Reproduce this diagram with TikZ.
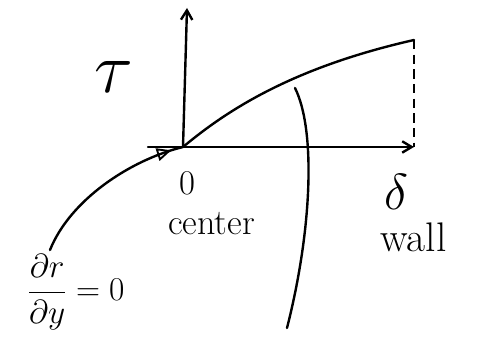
\RequirePackage{fix-cm}
\documentclass[tikz,border=0pt]{standalone}
\usepackage{tikz}
\usetikzlibrary{arrows.meta,decorations.markings}

\begin{document}
\begin{tikzpicture}[
  x=0.75pt,y=-0.75pt,
  pen/.style={line width=1.8pt,line cap=round},
  axis/.style={pen,-{Straight Barb[length=2.5mm,width=3mm]}},
  guide/.style={line width=1pt,dashed,dash pattern=on 7pt off 4pt},
  lbl/.style={inner sep=0pt,font=\fontsize{27}{30}\selectfont},
  inflow/.style={pen,postaction={decorate},decoration={markings,
    mark=at position 0.93 with {\arrow[line width=1.4pt]{Triangle[open,length=3.8mm,width=3.4mm]}}}}
]
\useasboundingbox (0,0) rectangle (479,338);
% axes
\coordinate (o) at (183,147);
\coordinate (xl) at (148,147);
\coordinate (xr) at (414,147);
\coordinate (yt) at (187,8);
\coordinate (tw) at (414,40);
\coordinate (cin) at (50,250);
\coordinate (dtop) at (295,88);
\coordinate (dbot) at (287,328);
\draw[axis] (xl) -- (xr);
\draw[axis] (o) -- (yt);
\draw[guide] (tw) -- (xr);
% profile and flow
\draw[pen] (o) .. controls (225,112) and (290,68) .. (tw);
\draw[inflow] (cin) .. controls (70,200) and (130,160) .. (o);
\draw[pen] (dtop) .. controls (316,130) and (312,230) .. (dbot);
% labels
\node[lbl,font=\fontsize{54}{58}\selectfont] (tau) at (114,77) {$\tau$};
\node[lbl,font=\fontsize{26}{30}\selectfont] (zero) at (187,183) {0};
\node[lbl,anchor=base west] (ctr) at (168,235) {center};
\node[lbl,font=\fontsize{38}{42}\selectfont] (dlt) at (396,192) {$\delta$};
\node[lbl,anchor=base west,font=\fontsize{31}{34}\selectfont] (wll) at (380,252) {wall};
\node[lbl,font=\fontsize{25}{28}\selectfont] (bc) at (76,292) {$\displaystyle\frac{\partial r}{\partial y}=0$};
\end{tikzpicture}
\end{document}
